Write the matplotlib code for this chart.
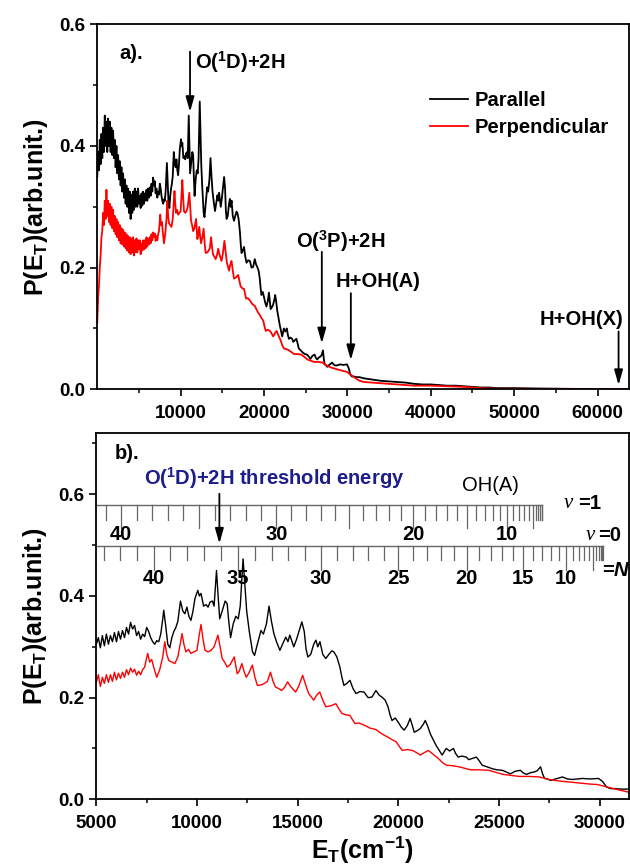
import numpy as np
import matplotlib
matplotlib.use("Agg")
import matplotlib.pyplot as plt
from matplotlib.lines import Line2D

plt.rcParams['font.family'] = ['Liberation Sans', 'DejaVu Sans']
plt.rcParams['font.weight'] = 'bold'
plt.rcParams['mathtext.fontset'] = 'custom'
plt.rcParams['mathtext.rm'] = 'Liberation Sans:bold'
plt.rcParams['mathtext.it'] = 'Liberation Sans:italic:bold'
plt.rcParams['mathtext.bf'] = 'Liberation Sans:bold'
plt.rcParams['mathtext.default'] = 'rm'

# ---------------- data ----------------
E_par = [0, 100, 200, 300, 400, 500, 600, 700, 800, 900, 1000, 1100, 1200, 1300, 1400, 1500,
         1600, 1700, 1800, 1900, 2000, 2100, 2200, 2300, 2400, 2500, 2600, 2700, 2800, 2900,
         3000, 3100, 3200, 3300, 3400, 3500, 3600, 3700, 3800, 3900, 4000, 4100, 4200, 4300,
         4400, 4500, 4600, 4700, 4800, 4900, 5000,
         5100, 5200, 5300, 5400, 5500, 5600, 5700, 5800, 5900, 6000, 6100, 6200, 6300, 6400,
         6500, 6600, 6700, 6800, 6900, 7000, 7100, 7200, 7300, 7400, 7500, 7600, 7700, 7800,
         7900, 8000, 8100, 8200, 8300, 8350, 8450, 8550, 8650, 8750, 8850, 8950, 9050, 9180,
         9300, 9400, 9500, 9600, 9700, 9800, 9900, 10040, 10120, 10200, 10330, 10450, 10550,
         10650, 10770, 10850, 10970, 11050, 11130, 11250, 11400, 11500, 11580, 11670, 11800,
         11930, 12050, 12150, 12290, 12400, 12470, 12600, 12760, 12860, 13000, 13180, 13300,
         13450, 13580, 13700, 13820, 13950, 14120, 14250, 14410, 14520, 14610, 14720, 14810,
         14950, 15100, 15210, 15330, 15420, 15510, 15650, 15800, 15910, 16000, 16110, 16250,
         16400, 16550, 16700, 16800, 16950, 17100, 17200, 17300, 17450, 17600, 17750, 17900,
         18100, 18300, 18500, 18690, 18800, 18890, 19050, 19190, 19350, 19490, 19600, 19690,
         19850, 19990, 20150, 20290, 20450, 20590, 20700, 20790, 20950, 21090, 21250, 21340,
         21450, 21590, 21700, 21880, 22050, 22180, 22300, 22380, 22550, 22740, 22850, 22980,
         23150, 23380, 23500, 23650, 23880, 24000, 24170, 24400, 24680, 24900, 25170, 25350,
         25570, 25800, 26070, 26200, 26370, 26550, 26770, 26900, 27070, 27170, 27270, 27400,
         27570, 27800, 28000, 28150, 28400, 28650, 28900, 29150, 29500, 29950, 30150, 30350,
         30550, 30760, 31100, 31450,
         32000, 33000, 34000, 35000, 36000, 37000, 38000, 39000, 40000, 41000, 42000, 43000,
         44000, 45000, 46000, 47000, 48000, 50000, 52000, 55000, 58000, 60000, 63800]
P_par = [0.35, 0.39, 0.36, 0.41, 0.37, 0.42, 0.38, 0.43, 0.39, 0.45, 0.40, 0.44, 0.39, 0.445,
         0.40, 0.44, 0.39, 0.43, 0.385, 0.425, 0.38, 0.41, 0.365, 0.40, 0.355, 0.385, 0.345,
         0.375, 0.335, 0.365, 0.325, 0.355, 0.315, 0.345, 0.305, 0.335, 0.30, 0.33, 0.29,
         0.325, 0.28, 0.32, 0.29, 0.325, 0.295, 0.33, 0.30, 0.325, 0.30, 0.33, 0.305,
         0.318, 0.298, 0.322, 0.302, 0.325, 0.305, 0.322, 0.31, 0.328, 0.31, 0.33, 0.315,
         0.332, 0.318, 0.338, 0.325, 0.348, 0.335, 0.342, 0.322, 0.33, 0.315, 0.325, 0.32,
         0.338, 0.33, 0.318, 0.31, 0.305, 0.312, 0.31, 0.325, 0.355, 0.372, 0.34, 0.305,
         0.298, 0.318, 0.33, 0.338, 0.35, 0.39, 0.37, 0.365, 0.378, 0.36, 0.352, 0.37, 0.395,
         0.411, 0.40, 0.405, 0.38, 0.383, 0.378, 0.388, 0.39, 0.38, 0.45, 0.40, 0.355, 0.37,
         0.39, 0.385, 0.35, 0.318, 0.345, 0.36, 0.355, 0.38, 0.473, 0.41, 0.37, 0.33, 0.29,
         0.283, 0.305, 0.332, 0.325, 0.345, 0.38, 0.35, 0.326, 0.31, 0.293, 0.305, 0.319,
         0.31, 0.323, 0.31, 0.30, 0.315, 0.335, 0.349, 0.33, 0.295, 0.28, 0.285, 0.305,
         0.313, 0.30, 0.31, 0.285, 0.277, 0.285, 0.292, 0.29, 0.28, 0.26, 0.24, 0.224,
         0.228, 0.234, 0.218, 0.208, 0.212, 0.211, 0.20, 0.201, 0.208, 0.214, 0.205, 0.201,
         0.195, 0.182, 0.165, 0.155, 0.16, 0.152, 0.142, 0.136, 0.145, 0.159, 0.145, 0.132,
         0.135, 0.139, 0.148, 0.155, 0.145, 0.129, 0.12, 0.106, 0.095, 0.087, 0.095, 0.10,
         0.095, 0.10, 0.09, 0.083, 0.085, 0.083, 0.078, 0.08, 0.083, 0.077, 0.067, 0.064,
         0.06, 0.058, 0.057, 0.054, 0.05, 0.055, 0.057, 0.052, 0.049, 0.052, 0.054, 0.056,
         0.064, 0.05, 0.041, 0.04, 0.037, 0.04, 0.042, 0.044, 0.04, 0.039, 0.04, 0.041,
         0.04, 0.041, 0.035, 0.024, 0.021, 0.021, 0.02, 0.02,
         0.018, 0.016, 0.014, 0.013, 0.012, 0.011, 0.009, 0.008, 0.008, 0.007, 0.006, 0.006,
         0.005, 0.004, 0.003, 0.003, 0.002, 0.002, 0.0015, 0.001, 0.0005, 0.0003, 0.0]

E_perp = [0, 100, 200, 300, 400, 500, 600, 700, 800, 900, 1000, 1100, 1200, 1300, 1400, 1500,
          1600, 1700, 1800, 1900, 2000, 2100, 2200, 2300, 2400, 2500, 2600, 2700, 2800, 2900,
          3000, 3100, 3200, 3300, 3400, 3500, 3600, 3700, 3800, 3900, 4000, 4100, 4200, 4300,
          4400, 4500, 4600, 4700, 4800, 4900, 5000,
          5100, 5200, 5300, 5400, 5500, 5600, 5700, 5800, 5900, 6000, 6100, 6200, 6300, 6400,
          6500, 6600, 6700, 6800, 6900, 7000, 7100, 7200, 7300, 7400, 7550, 7650, 7750, 7850,
          8000, 8150, 8300, 8400, 8500, 8600, 8750, 8900, 9050, 9260, 9350, 9450, 9580, 9700,
          9850, 10000, 10100, 10200, 10300, 10400, 10550, 10700, 10850, 11040, 11150, 11250,
          11400, 11500, 11650, 11850, 12000, 12100, 12230, 12350, 12450, 12600, 12750, 12880,
          13000, 13200, 13350, 13500, 13650, 13780, 13900, 14050, 14200, 14350, 14500, 14650,
          14900, 15050, 15250, 15400, 15550, 15700, 15800, 15950, 16100, 16250, 16400, 16650,
          16900, 17050, 17200, 17400, 17600, 17750, 17850, 18050, 18300, 18600, 18900, 19100,
          19300, 19500, 19700, 19900, 20050, 20200, 20450, 20700, 20900, 21100, 21300, 21500,
          21750, 22000, 22200, 22400, 22700, 23000, 23300, 23600, 24000, 24500, 24850, 25200,
          25600, 26000, 26500, 27000, 27200, 27500, 28000, 28500, 29000, 29500, 29900, 30200,
          30600, 31000, 31450,
          32000, 33000, 34000, 35000, 36000, 37000, 38000, 40000, 42000, 44000, 46000, 48000,
          50000, 55000, 60000, 63800]
P_perp = [0.11, 0.15, 0.17, 0.20, 0.22, 0.25, 0.26, 0.29, 0.27, 0.31, 0.28, 0.328, 0.285,
          0.31, 0.275, 0.305, 0.27, 0.30, 0.265, 0.295, 0.26, 0.285, 0.255, 0.28, 0.25, 0.275,
          0.245, 0.27, 0.24, 0.265, 0.238, 0.262, 0.235, 0.258, 0.232, 0.255, 0.228, 0.252,
          0.225, 0.25, 0.222, 0.248, 0.225, 0.25, 0.22, 0.245, 0.225, 0.248, 0.225, 0.245, 0.23,
          0.245, 0.222, 0.24, 0.228, 0.245, 0.23, 0.245, 0.232, 0.25, 0.235, 0.248, 0.238, 0.25,
          0.24, 0.255, 0.245, 0.258, 0.25, 0.256, 0.244, 0.252, 0.245, 0.255, 0.26, 0.287, 0.27,
          0.275, 0.26, 0.24, 0.255, 0.28, 0.31, 0.285, 0.273, 0.27, 0.267, 0.28, 0.326, 0.305,
          0.29, 0.295, 0.287, 0.29, 0.293, 0.32, 0.344, 0.315, 0.293, 0.29, 0.293, 0.30, 0.323,
          0.30, 0.277, 0.268, 0.26, 0.265, 0.28, 0.247, 0.252, 0.267, 0.25, 0.24, 0.25, 0.264,
          0.24, 0.224, 0.225, 0.228, 0.232, 0.25, 0.232, 0.221, 0.218, 0.214, 0.22, 0.231,
          0.222, 0.211, 0.222, 0.244, 0.225, 0.208, 0.20, 0.195, 0.205, 0.211, 0.195, 0.182,
          0.184, 0.188, 0.178, 0.169, 0.166, 0.165, 0.155, 0.149, 0.15, 0.146, 0.14, 0.137,
          0.131, 0.126, 0.122, 0.117, 0.113, 0.104, 0.096, 0.098, 0.096, 0.092, 0.087, 0.092,
          0.096, 0.088, 0.08, 0.072, 0.067, 0.066, 0.064, 0.061, 0.058, 0.058, 0.057, 0.053,
          0.049, 0.047, 0.045, 0.045, 0.044, 0.042, 0.039, 0.036, 0.034, 0.032, 0.03, 0.029,
          0.026, 0.022, 0.018, 0.014,
          0.012, 0.011, 0.010, 0.009, 0.008, 0.007, 0.006, 0.006, 0.005, 0.004, 0.002, 0.001,
          0.001, 0.0005, 0.0003, 0.0]

# OH(A) rotational comb positions (E_T, cm-1), N = 0, 1, 2, ...
comb_v1 = [27150, 27118, 27054, 26957, 26829, 26669, 26477, 26255, 26001, 25718, 25404,
           25060, 24688, 24287, 23859, 23404, 22922, 22414, 21882, 21327, 20748, 20147,
           19526, 18884, 18224, 17547, 16853, 16144, 15422, 14687, 13941, 13186, 12423,
           11654, 10880, 10103, 9324, 8546, 7770, 6999, 6233, 5475]
comb_v0 = [30170, 30136, 30068, 29967, 29832, 29663, 29461, 29227, 28960, 28660, 28329,
           27967, 27574, 27151, 26698, 26217, 25708, 25171, 24608, 24020, 23407, 22770,
           22110, 21430, 20728, 20008, 19269, 18514, 17744, 16959, 16162, 15353, 14535,
           13709, 12876, 12039, 11199, 10357, 9516, 8677, 7842, 7014, 6194, 5384]
labels_v1 = [10, 20, 30, 40]
labels_v0 = [10, 15, 20, 25, 30, 35, 40]

# channel thresholds in panel a
thr_a = {'O1D': 11125, 'O3P': 26930, 'OHA': 30410, 'OHX': 62520}
thr_b = 11113

# ---------------- figure ----------------
fig = plt.figure(figsize=(6.3, 8.64), dpi=100)
ax_a = fig.add_axes([0.1544, 0.5494, 0.8444, 0.4225])
ax_b = fig.add_axes([0.1529, 0.0749, 0.8451, 0.4236])

for ax, lw in ((ax_a, 1.3), (ax_b, 1.0)):
    ax.plot(E_par, P_par, color='black', lw=lw)
    ax.plot(E_perp, P_perp, color='red', lw=lw)
    for s in ax.spines.values():
        s.set_linewidth(1.3)
    ax.tick_params(which='major', direction='out', length=5, width=1.2,
                   labelsize=13.5, pad=4, top=False, right=False)
    ax.tick_params(which='minor', direction='out', length=3, width=1.1,
                   top=False, right=False)
    ax.tick_params(axis='x', which='major', pad=6)
    ax.set_ylabel(r'P(E$_{T}$)(arb.unit.)', fontsize=18, fontweight='bold', labelpad=6)

ax_a.set_xlim(0, 63800)
ax_a.set_ylim(0, 0.6)
ax_a.set_xticks(np.arange(10000, 60001, 10000))
ax_a.set_xticks(np.arange(5000, 63001, 5000), minor=True)
ax_a.set_yticks([0.0, 0.2, 0.4, 0.6])
ax_a.set_yticks([0.1, 0.3, 0.5], minor=True)
ax_a.set_yticklabels(['0.0', '0.2', '0.4', '0.6'])

ax_b.set_xlim(5000, 31450)
ax_b.set_ylim(0, 0.72)
ax_b.set_xticks(np.arange(5000, 30001, 5000))
ax_b.set_xticks(np.arange(7500, 31001, 2500), minor=True)
ax_b.set_yticks([0.0, 0.2, 0.4, 0.6])
ax_b.set_yticks([0.1, 0.3, 0.5, 0.7], minor=True)
ax_b.set_yticklabels(['0.0', '0.2', '0.4', '0.6'])
ax_b.set_xlabel(r'E$_{T}$(cm$^{-1}$)', fontsize=18, fontweight='bold', labelpad=2)

# ---------------- panel a annotations ----------------
arrow_kw = dict(arrowstyle='-|>,head_length=0.6,head_width=0.17', color='black',
                lw=1.3, shrinkA=0, shrinkB=0, mutation_scale=15)
ax_a.text(2620, 0.552, 'a).', fontsize=14.5, ha='left', va='center')
ax_a.annotate('', xy=(thr_a['O1D'], 0.456), xytext=(thr_a['O1D'], 0.555), arrowprops=arrow_kw)
ax_a.text(11750, 0.538, r'O($^{1}$D)+2H', fontsize=14.5, ha='left', va='center')
ax_a.annotate('', xy=(thr_a['O3P'], 0.0756), xytext=(thr_a['O3P'], 0.226), arrowprops=arrow_kw)
ax_a.text(29240, 0.243, r'O($^{3}$P)+2H', fontsize=14.5, ha='center', va='center')
ax_a.annotate('', xy=(thr_a['OHA'], 0.048), xytext=(thr_a['OHA'], 0.158), arrowprops=arrow_kw)
ax_a.text(33630, 0.177, 'H+OH(A)', fontsize=14.5, ha='center', va='center')
ax_a.annotate('', xy=(thr_a['OHX'], 0.007), xytext=(thr_a['OHX'], 0.095), arrowprops=arrow_kw)
ax_a.text(58060, 0.115, 'H+OH(X)', fontsize=14.5, ha='center', va='center')

handles = [Line2D([], [], color='black', lw=1.3), Line2D([], [], color='red', lw=1.3)]
ax_a.legend(handles, ['Parallel', 'Perpendicular'], loc='upper left',
            bbox_to_anchor=(0.625, 0.818), frameon=False, handlelength=1.9,
            handletextpad=0.35, labelspacing=0.42, borderpad=0, borderaxespad=0,
            prop=dict(weight='bold', size=14.5))

# ---------------- panel b annotations ----------------
comb_color = '#666666'
rows = [(comb_v1, 0.578, 0.0295, 0.045, labels_v1, 0.52),
        (comb_v0, 0.498, 0.028, 0.047, labels_v0, 0.435)]
for pos, y0, short, long_, labs, ylab in rows:
    ax_b.plot([5000, pos[0]], [y0, y0], color=comb_color, lw=1.0)
    for n, e in enumerate(pos):
        ln = long_ if (n % 5 == 0 and n > 0) else short
        ax_b.plot([e, e], [y0, y0 - ln], color=comb_color, lw=0.9)
    for n in labs:
        ax_b.text(pos[n], ylab, str(n), fontsize=14.5, ha='center', va='center')

ax_b.text(24570, 0.617, 'OH(A)', fontsize=14.5, fontweight='normal', ha='center', va='center')
ax_b.text(28195, 0.582, 'ν', family='Liberation Serif', style='italic', fontweight='normal',
          fontsize=15, ha='left', va='center')
ax_b.text(28940, 0.582, '=1', fontsize=14.5, ha='left', va='center')
ax_b.text(29290, 0.519, 'ν', family='Liberation Serif', style='italic', fontweight='normal',
          fontsize=15, ha='left', va='center')
ax_b.text(29930, 0.519, '=0', fontsize=14.5, ha='left', va='center')
ax_b.text(30120, 0.451, r'=$\mathit{N}$', fontsize=14.5, ha='left', va='center', clip_on=True)

ax_b.text(5930, 0.68, 'b).', fontsize=14.5, ha='left', va='center')
ax_b.text(13860, 0.631, r'O($^{1}$D)+2H threshold energy', fontsize=14.5, color='#1c1c8a',
          ha='center', va='center')
ax_b.annotate('', xy=(thr_b, 0.503), xytext=(thr_b, 0.601), arrowprops=arrow_kw)

fig.savefig('out.png', dpi=100, facecolor='white')
